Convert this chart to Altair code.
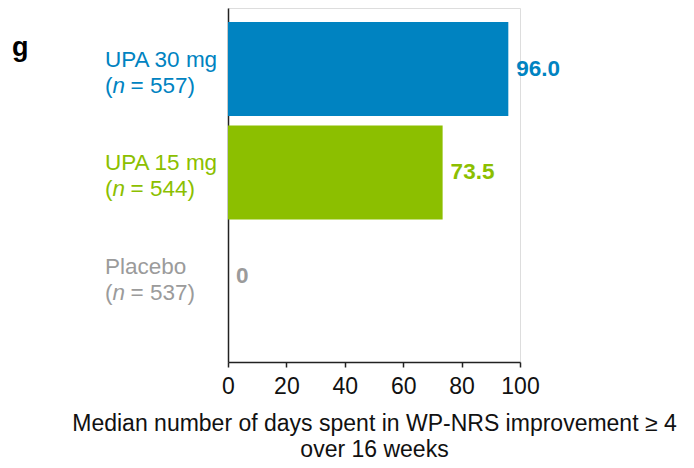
import altair as alt
import pandas as pd

groups = ["UPA 30 mg", "UPA 15 mg", "Placebo"]
n_values = ["557", "544", "537"]
days = [96.0, 73.5, 0.0]
value_labels = ["96.0", "73.5", "0"]
colors = ["#0083C1", "#8CBF00", "#9B9B9B"]
x_ticks = [0, 20, 40, 60, 80, 100]
x_title = ["Median number of days spent in WP-NRS improvement \u2265 4", "over 16 weeks"]
panel_letter = ["g"]

df = pd.DataFrame({
    "group": groups,
    "days": days,
    "label": value_labels,
    "rest": ["= " + n + ")" for n in n_values],
    "open": ["(" for _ in groups],
    "nsym": ["n" for _ in groups],
})

FONT = "Liberation Sans"
AXIS_COLOR = "#222222"
LBL = 22.5

yenc = alt.Y(
    "group:N",
    sort=groups,
    scale=alt.Scale(paddingInner=0.092, paddingOuter=0.256, align=0.264),
    axis=alt.Axis(title=None, labels=False, ticks=False, domain=True,
                  domainColor=AXIS_COLOR, domainWidth=1.5, grid=False),
)
color = alt.Color("group:N", scale=alt.Scale(domain=groups, range=colors), legend=None)

base = alt.Chart(df)

bars = base.mark_bar().encode(
    x=alt.X(
        "days:Q",
        scale=alt.Scale(domain=[0, 100]),
        axis=alt.Axis(
            values=x_ticks,
            title=x_title,
            grid=False,
            labelFlush=False,
            domainColor=AXIS_COLOR,
            domainWidth=1.5,
            tickColor=AXIS_COLOR,
            tickWidth=1.5,
            tickSize=5,
            labelFontSize=23,
            labelColor="#111111",
            labelPadding=8,
            labelFont=FONT,
            titleFont=FONT,
            titleFontSize=23,
            titleFontWeight="normal",
            titleColor="#111111",
            titleLineHeight=26,
            titlePadding=14,
        ),
    ),
    y=yenc,
    color=color,
)

values_text = base.mark_text(
    align="left", baseline="middle", dx=8, fontWeight="bold", fontSize=22.5, font=FONT
).encode(x="days:Q", y=yenc, text="label:N", color=color)

line1 = base.mark_text(align="left", baseline="middle", dy=-9, fontSize=LBL, font=FONT).encode(
    x=alt.value(-123), y=yenc, text="group:N", color=color
)
open_p = base.mark_text(align="left", baseline="middle", dy=17, fontSize=LBL, font=FONT).encode(
    x=alt.value(-123), y=yenc, text="open:N", color=color
)
n_ital = base.mark_text(align="left", baseline="middle", dy=17, fontSize=LBL, font=FONT,
                        fontStyle="italic").encode(
    x=alt.value(-115.5), y=yenc, text="nsym:N", color=color
)
rest = base.mark_text(align="left", baseline="middle", dy=17, fontSize=LBL, font=FONT).encode(
    x=alt.value(-97.5), y=yenc, text="rest:N", color=color
)

letter = alt.Chart(pd.DataFrame({"t": panel_letter})).mark_text(
    align="left", baseline="alphabetic", fontSize=27, fontWeight="bold", font=FONT, color="#000000"
).encode(x=alt.value(-216), y=alt.value(48), text="t:N")

chart = (
    alt.layer(bars, values_text, line1, open_p, n_ital, rest, letter)
    .properties(
        width=292,
        height=354,
        autosize=alt.AutoSizeParams(type="none"),
        padding={"left": 220, "top": 0, "right": 160, "bottom": 98},
    )
    .configure_view(stroke=None)
    .configure(font=FONT)
)

chart.save("out.html", embed_options={"renderer": "svg", "actions": False})
